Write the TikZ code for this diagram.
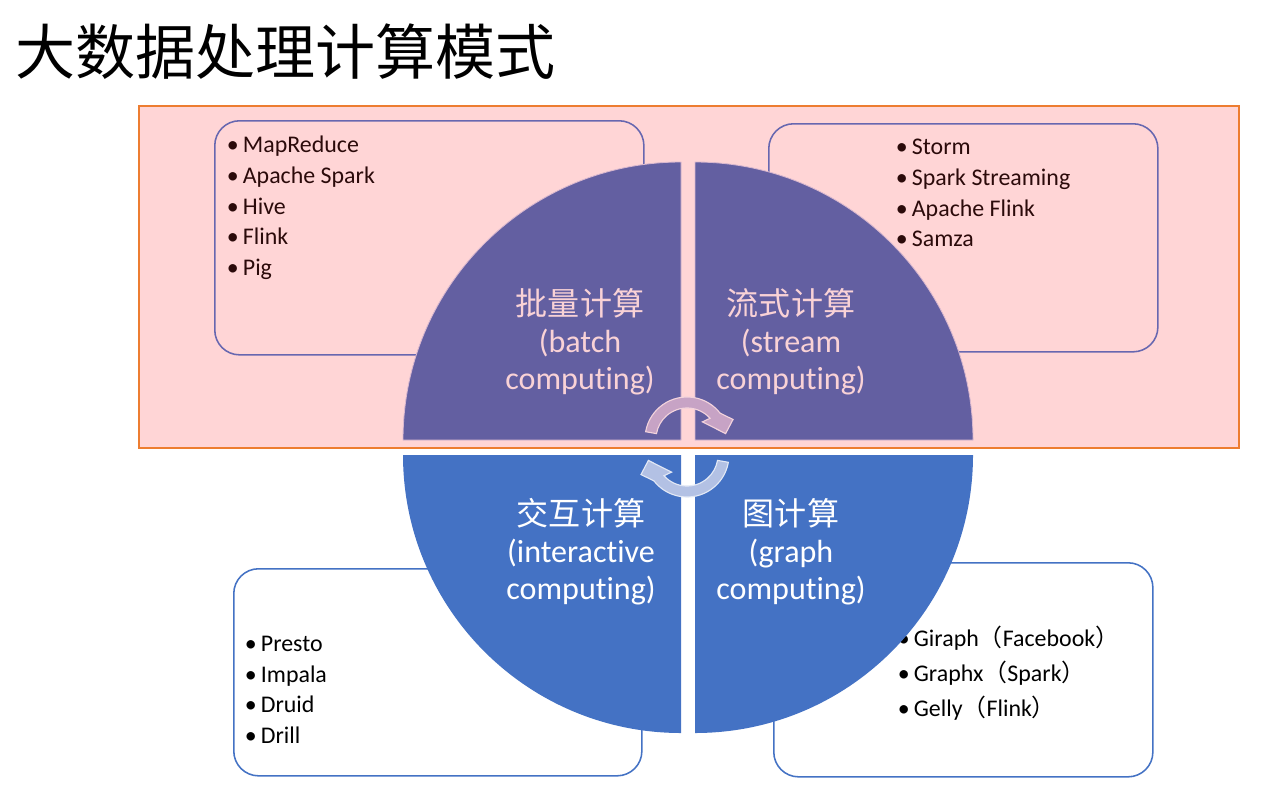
\documentclass[tikz,border=0pt]{standalone}
\usepackage{fontspec}
\setmainfont{Carlito}[Ligatures=NoCommon]
\newfontfamily\cjk{Noto Sans CJK SC}
\usepackage{tikz}
\usetikzlibrary{positioning}
\definecolor{panelfill}{HTML}{FFD5D6}
\definecolor{panelline}{HTML}{ED7D31}
\definecolor{boxtop}{HTML}{6767B0}
\definecolor{boxbot}{HTML}{4472C4}
\definecolor{qpurple}{HTML}{635FA1}
\definecolor{qpurpleline}{HTML}{D9B8CF}
\definecolor{qblue}{HTML}{4472C4}
\definecolor{qtextpink}{HTML}{F9D2D6}
\definecolor{textdark}{HTML}{2B0A0A}
\definecolor{arrowtop}{HTML}{C7A3C5}
\definecolor{arrowtopline}{HTML}{F3D3DC}
\definecolor{arrowbot}{HTML}{B3C1E4}
\definecolor{arrowbotline}{HTML}{E2E8F5}

\begin{document}
\begin{tikzpicture}[
    x=0.025cm, y=-0.025cm,
    panel/.style={draw=panelline, fill=panelfill, line width=1.1pt, inner sep=0pt, anchor=north west},
    listbox/.style={draw=#1, line width=1.1pt, rounded corners=0.62cm, inner sep=0pt, anchor=north west},
    item/.style={anchor=base west, inner sep=0pt, font=\fontsize{17}{20}\selectfont, text=#1},
    quarter/.style={fill=#1},
    qtext/.style={align=center, inner sep=0pt, font=\fontsize{22.8}{26.3}\selectfont, text=#1},
    cyc/.style 2 args={fill=#1, draw=#2, line width=0.8pt}
  ]
    \useasboundingbox (0,0) rectangle (1280,810);

    \node[anchor=west, inner sep=0pt, font=\fontsize{42.7}{48}\selectfont\cjk] (title) at (15,52) {大数据处理计算模式};

    \node[panel, minimum width=27.5cm, minimum height=8.55cm] (panel) at (138,105) {};

    \node[listbox=boxtop, minimum width=10.725cm, minimum height=5.85cm] (batchbox) at (214,120) {};
    \node[listbox=boxtop, minimum width=9.725cm, minimum height=5.7cm] (streambox) at (768,123) {};
    \node[listbox=boxbot, fill=white, minimum width=10.2cm, minimum height=5.175cm] (interbox) at (233,568) {};
    \node[listbox=boxbot, fill=white, minimum width=9.475cm, minimum height=5.35cm] (graphbox) at (773,562) {};

    \foreach \t [count=\i] in {MapReduce, Apache Spark, Hive, Flink, Pig}
      \node[item=textdark] (batch\i) at (226.5, {152.5+30.75*(\i-1)}) {•\hspace{3pt}\t};
    \foreach \t [count=\i] in {Storm, Spark Streaming, Apache Flink, Samza}
      \node[item=textdark] (stream\i) at (895.5, {154.5+30.75*(\i-1)}) {•\hspace{3pt}\t};
    \foreach \t [count=\i] in {Presto, Impala, Druid, Drill}
      \node[item=black] (inter\i) at (244.5, {651.5+30.7*(\i-1)}) {•\hspace{3pt}\t};
    \foreach \t [count=\i] in {Giraph{\cjk （}Facebook{\cjk ）}, Graphx{\cjk （}Spark{\cjk ）}, Gelly{\cjk （}Flink{\cjk ）}}
      \node[item=black] (graph\i) at (897.5, {646.5+35*(\i-1)}) {•\hspace{3pt}\t};

    \path[quarter=qpurple, draw=qpurpleline, line width=0.6pt] (681,440) -- (403,440) arc[start angle=180, end angle=270, radius=278] -- cycle;
    \path[quarter=qpurple, draw=qpurpleline, line width=0.6pt] (695,440) -- (695,162) arc[start angle=270, end angle=360, radius=278] -- cycle;
    \path[quarter=qblue] (681,455) -- (681,733) arc[start angle=90, end angle=180, radius=278] -- cycle;
    \path[quarter=qblue] (695,455) -- (973,455) arc[start angle=0, end angle=90, radius=278] -- cycle;

    \node[qtext=qtextpink] (batch) at (580,342) {{\cjk 批量计算}\\(batch\\computing)};
    \node[qtext=qtextpink] (stream) at (791,342) {{\cjk 流式计算}\\(stream\\computing)};
    \node[qtext=white] (inter) at (581,552) {{\cjk 交互计算}\\(interactive\\computing)};
    \node[qtext=white] (graph) at (791,552) {{\cjk 图计算}\\(graph\\computing)};

    \path[cyc={arrowtop}{arrowtopline}] ([shift={(687,439)}]190:42) arc[start angle=190, end angle=322, radius=42]
      -- ([shift={(687,439)}]337:50) -- ([shift={(687,439)}]352:39) -- ([shift={(687,439)}]312:23)
      -- ([shift={(687,439)}]318:31) arc[start angle=318, end angle=190, radius=31] -- cycle;
    \path[cyc={arrowbot}{arrowbotline}] ([shift={(687,455)}]10:42) arc[start angle=10, end angle=142, radius=42]
      -- ([shift={(687,455)}]157:50) -- ([shift={(687,455)}]172:39) -- ([shift={(687,455)}]132:23)
      -- ([shift={(687,455)}]138:31) arc[start angle=138, end angle=10, radius=31] -- cycle;
  \end{tikzpicture}
\end{document}
